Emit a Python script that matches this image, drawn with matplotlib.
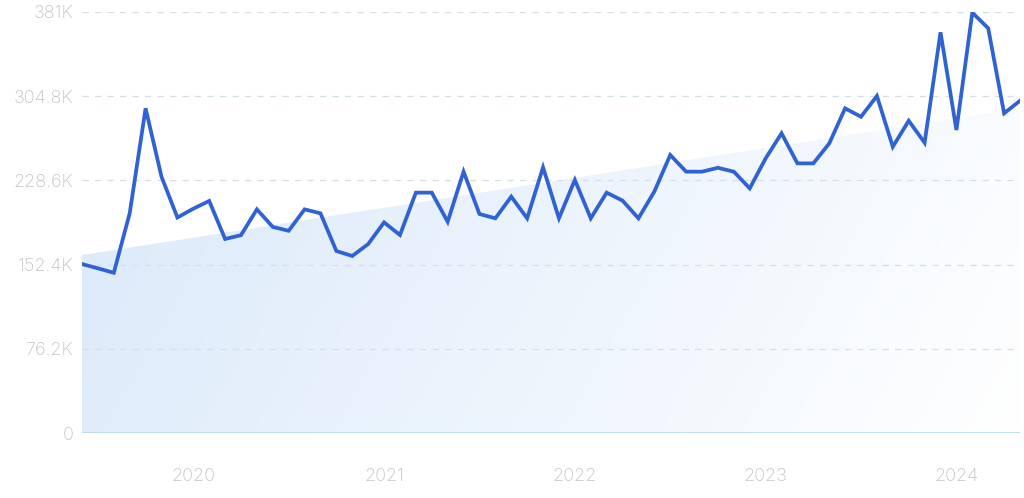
import numpy as np
import matplotlib
matplotlib.use("Agg")
import matplotlib.pyplot as plt
from matplotlib.patches import Polygon

# monthly values, Jun 2019 .. May 2024
values = [152.9, 149.0, 145.0, 198.8, 293.8, 232.0, 195.0, 203.0, 210.0, 175.6,
          179.0, 202.4, 186.5, 183.0, 202.4, 198.8, 164.7, 160.2, 171.0, 190.6,
          179.2, 217.5, 217.5, 191.2, 236.5, 198.2, 194.3, 213.9, 194.3, 240.4,
          194.3, 229.0, 194.3, 217.5, 210.3, 194.3, 218.5, 251.6, 236.5, 236.5,
          240.0, 236.5, 221.4, 248.5, 271.2, 244.0, 244.0, 262.0, 293.8, 286.2,
          305.0, 259.0, 282.6, 262.7, 362.6, 274.2, 380.4, 366.3, 289.3, 300.7]
values = [v * 1000 for v in values]

trend_start = 161000
trend_end = 294000

y_ticks = [0, 76200, 152400, 228600, 304800, 381000]
y_labels = ["0", "76.2K", "152.4K", "228.6K", "304.8K", "381K"]
year_pos = [7, 19, 31, 43, 55]
year_labels = ["2020", "2021", "2022", "2023", "2024"]

plt.rcParams['font.family'] = ['Inter', 'DejaVu Sans']

fig = plt.figure(figsize=(10.24, 4.98), dpi=100)
ax = fig.add_axes([82/1024, 65/498, 938/1024, 421/498])

n = len(values)
x = np.arange(n)
ymax = 381000

# gradient trend area
c0 = np.array([0.85, 0.91, 0.98])
c1 = np.array([1.0, 1.0, 1.0])
gx, gy = np.meshgrid(np.linspace(0, 1, 200), np.linspace(0, 1, 100))
t = 0.8 * gx + 0.2 * gy
img = c0[None, None, :] * (1 - t[..., None]) + c1[None, None, :] * t[..., None]
im = ax.imshow(img, extent=[0, n - 1, 0, ymax], origin='upper', aspect='auto', zorder=1)
poly = Polygon([[0, 0], [0, trend_start], [n - 1, trend_end], [n - 1, 0]],
               closed=True, facecolor='none', edgecolor='none')
ax.add_patch(poly)
im.set_clip_path(poly)

for yt in y_ticks[1:]:
    ax.axhline(yt, color='#d3e0e6', lw=0.9, ls=(0, (5, 5)), zorder=2)
ax.axhline(0, color='#b8dced', lw=1.2, zorder=3)

ax.plot(x, values, color='#2f62d3', lw=2.7, solid_joinstyle='miter', zorder=4)

ax.set_xlim(0, n - 1)
ax.set_ylim(0, ymax)
ax.set_yticks(y_ticks)
ax.set_yticklabels(y_labels, fontweight='light')
ax.set_xticks(year_pos)
ax.set_xticklabels(year_labels, fontweight='light')
ax.tick_params(axis='y', length=0, pad=6, labelsize=13, labelcolor='#c4c4c4')
ax.tick_params(axis='x', length=0, pad=25, labelsize=13, labelcolor='#c4c4c4')
for s in ax.spines.values():
    s.set_visible(False)

fig.savefig('out.png', dpi=100)
